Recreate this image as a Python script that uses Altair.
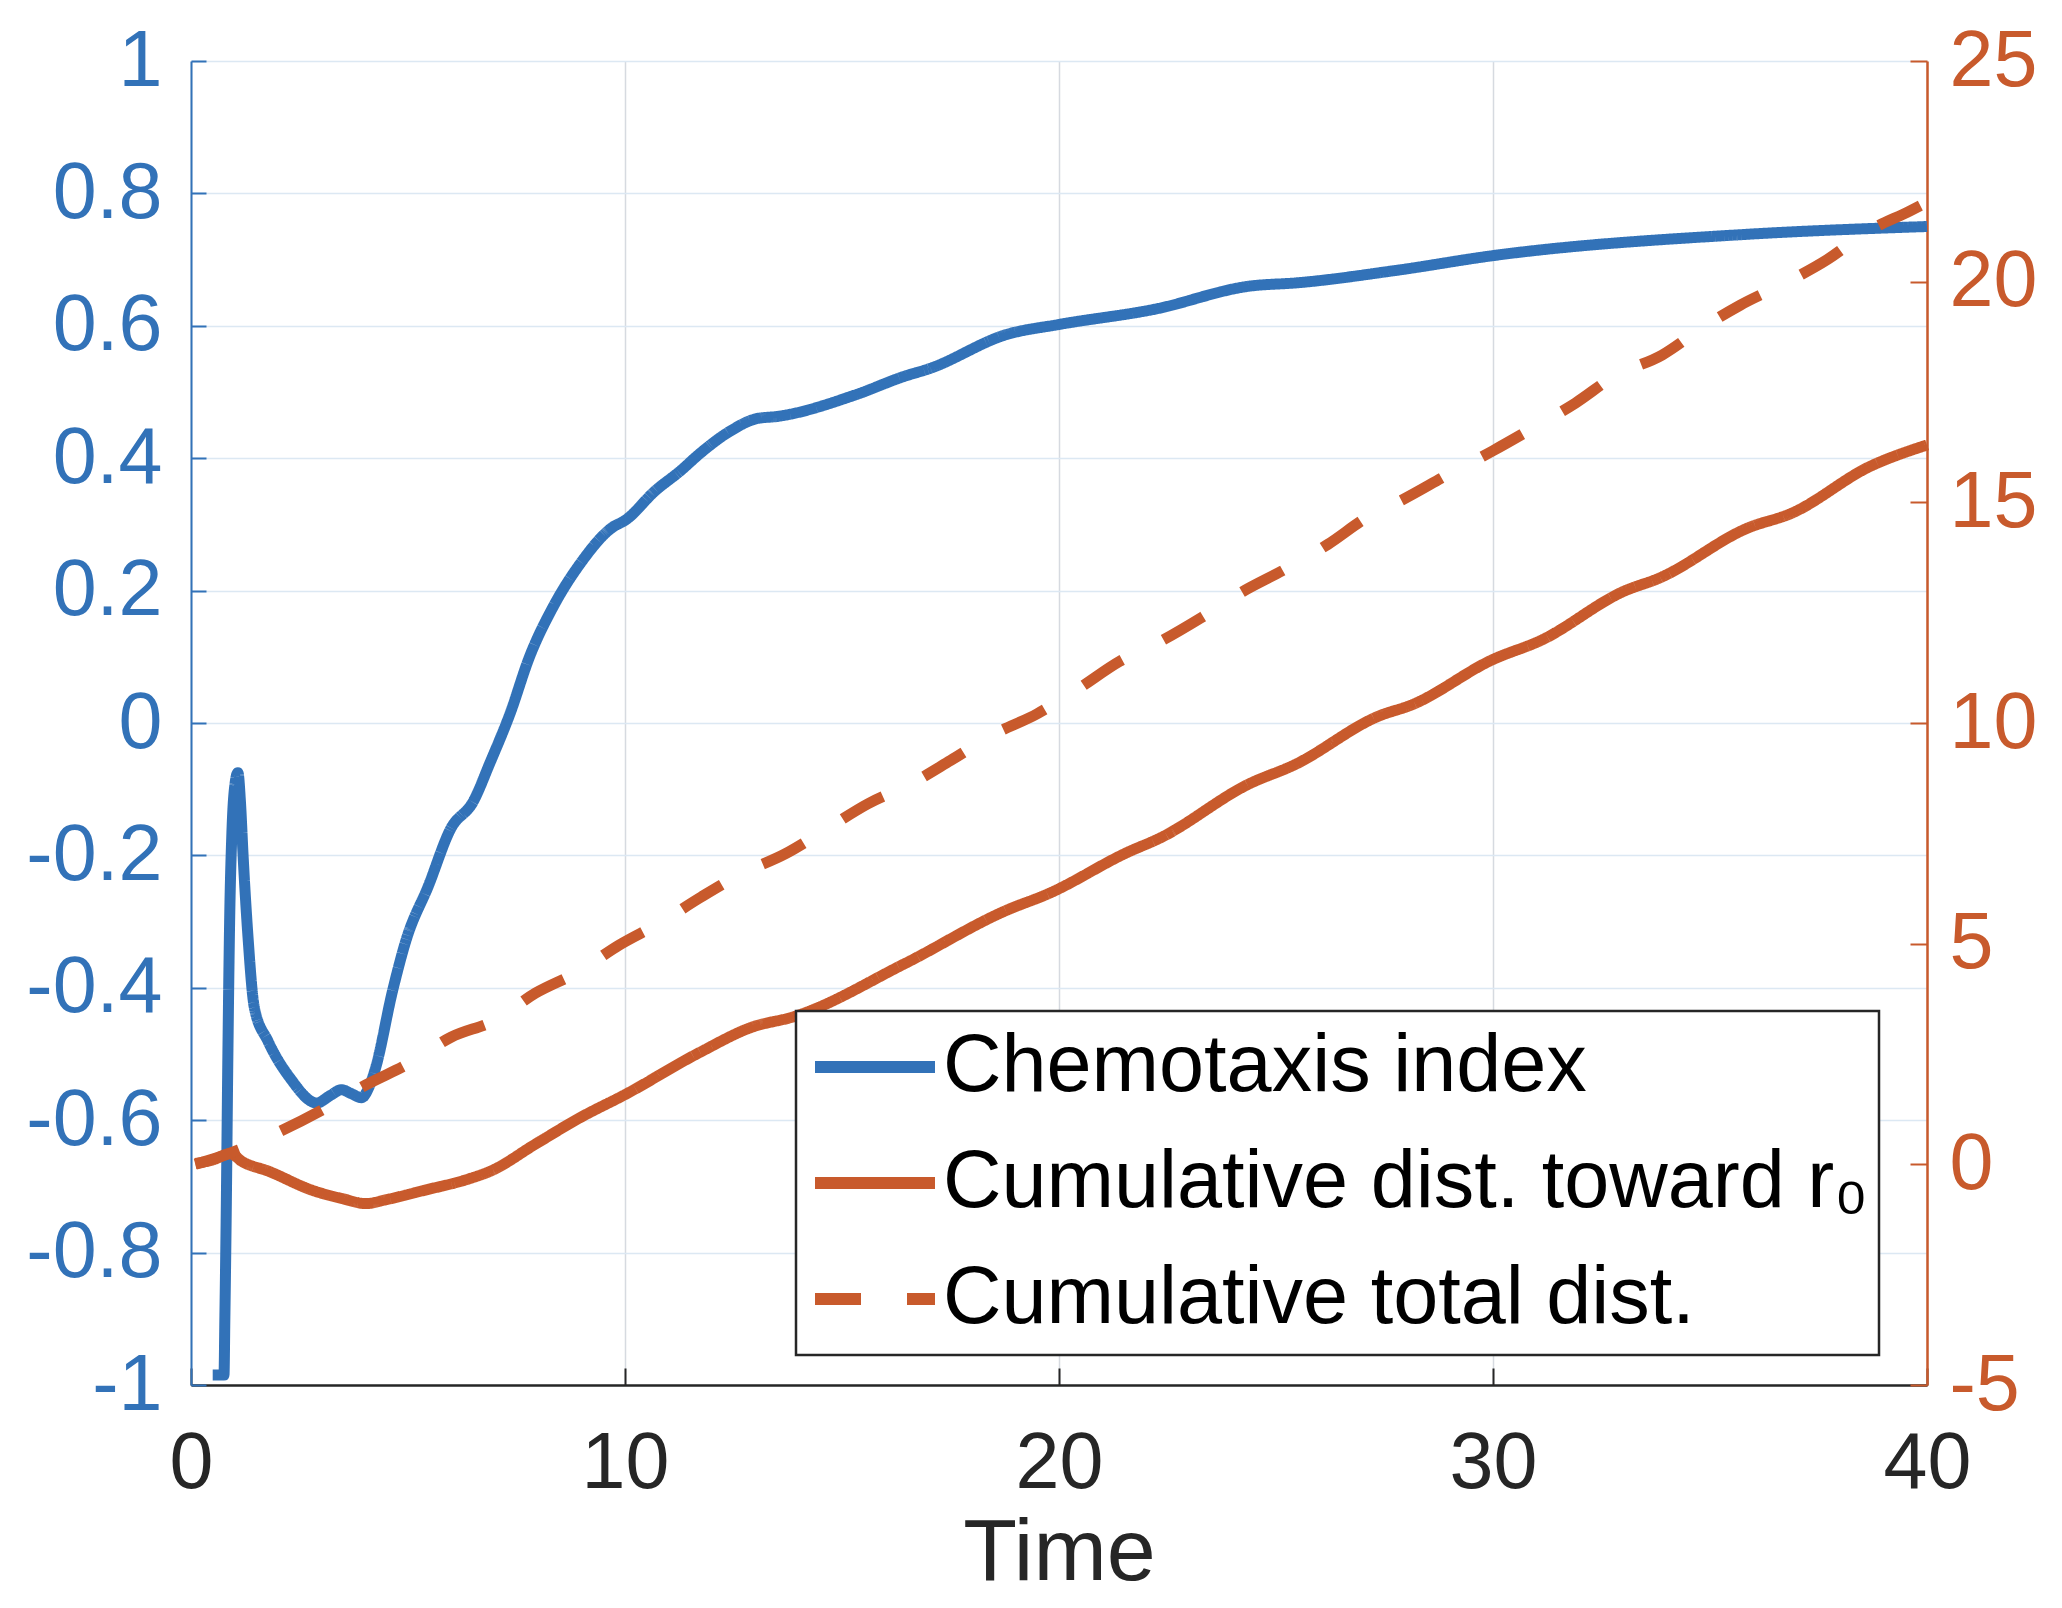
import altair as alt
import pandas as pd

# ---------------- data ----------------
ci_t = [0.5, 0.76, 0.78, 0.81, 0.85, 0.89, 0.94, 1.0, 1.08, 1.14, 1.2, 1.31, 1.46,
        1.77, 2.28, 2.9, 3.2, 3.47, 3.7, 3.93, 4.1, 4.24, 4.65, 4.96, 5.47, 5.99,
        6.5, 6.89, 7.35, 7.8, 8.34, 8.96, 9.72, 10.0, 10.7, 11.26, 11.76, 12.4,
        13.05, 13.5, 15.28, 16.45, 17.0, 18.8, 20.0, 22.2, 24.4, 25.5, 27.8, 30.0,
        35.8, 40.0]
ci_v = [-0.985, -0.985, -0.9, -0.75, -0.5, -0.3, -0.17, -0.1, -0.075, -0.12, -0.2,
        -0.32, -0.43, -0.48, -0.536, -0.574, -0.563, -0.554, -0.56, -0.566, -0.55,
        -0.524, -0.403, -0.327, -0.246, -0.159, -0.119, -0.06, 0.014, 0.1, 0.175,
        0.24, 0.296, 0.306, 0.351, 0.38, 0.409, 0.44, 0.46, 0.463, 0.495, 0.524,
        0.535, 0.587, 0.602, 0.625, 0.66, 0.665, 0.684, 0.706, 0.738, 0.75]

tow_t = [0.1, 0.5, 0.9, 1.2, 1.77, 2.8, 3.5, 4.03, 4.5, 5.37, 6.4, 6.91, 7.94, 8.97,
         10.0, 11.73, 12.93, 13.87, 16.45, 18.8, 19.75, 21.6, 22.3, 24.4, 25.4,
         27.4, 28.1, 30.0, 31.1, 33.05, 33.8, 35.9, 36.85, 38.7, 40.0]
tow_v = [0.02, 0.1, 0.24, 0.05, -0.15, -0.59, -0.78, -0.89, -0.8, -0.59, -0.33,
         -0.15, 0.46, 1.06, 1.58, 2.54, 3.11, 3.34, 4.55, 5.76, 6.13, 7.08, 7.38,
         8.63, 9.04, 10.17, 10.4, 11.44, 11.87, 13.0, 13.27, 14.43, 14.74, 15.82,
         16.3]

tot_t = [0.1, 0.6, 1.1, 2.08, 3.11, 4.03, 5.01, 5.99, 7.02, 7.94, 8.92, 9.85, 10.82,
         11.76, 12.7, 13.7, 14.6, 15.6, 16.6, 17.5, 18.45, 19.5, 20.45, 21.4, 22.3,
         23.3, 24.2, 25.2, 26.2, 27.1, 27.9, 29.0, 30.0, 31.0, 31.9, 32.8, 33.9,
         34.8, 35.7, 36.75, 37.7, 38.6, 39.6, 40.0]
tot_v = [0.0, 0.15, 0.33, 0.76, 1.28, 1.8, 2.28, 2.88, 3.27, 3.88, 4.36, 4.96, 5.48,
         6.06, 6.59, 7.04, 7.57, 8.17, 8.63, 9.15, 9.72, 10.21, 10.78, 11.4, 11.83,
         12.4, 12.96, 13.48, 14.05, 14.66, 15.05, 15.65, 16.17, 16.73, 17.25, 17.86,
         18.34, 18.94, 19.47, 19.98, 20.5, 21.12, 21.6, 21.8]

series_names = ["Chemotaxis index", "Cumulative dist. toward r\u2080",
                "Cumulative total dist."]
left_ticks = [-1, -0.8, -0.6, -0.4, -0.2, 0, 0.2, 0.4, 0.6, 0.8, 1]
right_ticks = [-5, 0, 5, 10, 15, 20, 25]
x_ticks = [0, 10, 20, 30, 40]

# ---------------- styling ----------------
BLUE = "#3272B8"
ORANGE = "#C85A2C"
DARK = "#262626"
FONT = "Liberation Sans"
LW = 11

blue_df = pd.DataFrame({"t": ci_t, "v": ci_v, "series": series_names[0]})
orange_df = pd.concat([
    pd.DataFrame({"t": tow_t, "v": tow_v, "series": series_names[1]}),
    pd.DataFrame({"t": tot_t, "v": tot_v, "series": series_names[2]}),
], ignore_index=True)

xscale = alt.Scale(domain=[0, 40], nice=False, zero=False)
lscale = alt.Scale(domain=[-1, 1], nice=False, zero=False)
rscale = alt.Scale(domain=[-5, 25], nice=False, zero=False)

color = alt.Color("series:N", title=None,
                  scale=alt.Scale(domain=series_names, range=[BLUE, ORANGE, ORANGE]))
dash = alt.StrokeDash("series:N", title=None,
                      scale=alt.Scale(domain=series_names,
                                      range=[[1, 0], [1, 0], [46, 46]]))

# main blue layer: left axis + bottom axis with labels, grids
blue = alt.Chart(blue_df).mark_line(
    strokeWidth=LW, strokeJoin="round", interpolate="monotone"
).encode(
    x=alt.X("t:Q", scale=xscale, axis=alt.Axis(
        orient="bottom", values=x_ticks, title="Time", domain=True,
        domainColor=DARK, domainWidth=2.5, ticks=False, tickSize=0,
        labelFontSize=79, labelColor=DARK, labelPadding=40, labelFlush=False,
        labelOverlap=False, titleFontSize=88, titleFontWeight="normal",
        titleColor=DARK, titleBaseline="alphabetic", titleY=194,
        grid=True, gridColor="#D6DAE0", gridWidth=1.5)),
    y=alt.Y("v:Q", scale=lscale, axis=alt.Axis(
        orient="left", values=left_ticks, title=None, domain=True,
        domainColor=BLUE, domainWidth=2, ticks=False, tickSize=0,
        labelFontSize=79, labelColor=BLUE, labelPadding=29,
        labelOverlap=False, labelExpr="toString(datum.value)",
        grid=True, gridColor="#DCE8F3", gridWidth=1.5)),
    color=color,
    strokeDash=dash,
)

# inward ticks on the left and bottom
blue_ticks = alt.Chart(blue_df).mark_line(strokeOpacity=0).encode(
    x=alt.X("t:Q", scale=xscale, axis=alt.Axis(
        orient="bottom", values=x_ticks, title=None, domain=False, labels=False,
        grid=False, ticks=True, tickSize=17, tickColor=DARK, tickWidth=2,
        offset=-17)),
    y=alt.Y("v:Q", scale=lscale, axis=alt.Axis(
        orient="left", values=left_ticks, title=None, domain=False, labels=False,
        grid=False, ticks=True, tickSize=15, tickColor=BLUE, tickWidth=2,
        offset=-15)),
)

# orange lines on the right axis
orange = alt.Chart(orange_df).mark_line(
    strokeWidth=LW, strokeJoin="round", interpolate="monotone"
).encode(
    x=alt.X("t:Q", scale=xscale, axis=None),
    y=alt.Y("v:Q", scale=rscale, axis=alt.Axis(
        orient="right", values=right_ticks, title=None, domain=True,
        domainColor=ORANGE, domainWidth=2.5, ticks=False, tickSize=0,
        labelFontSize=79, labelColor=ORANGE, labelPadding=22,
        labelOverlap=False, labelExpr="toString(datum.value)", grid=False)),
    color=color,
    strokeDash=dash,
)

orange_ticks = alt.Chart(orange_df).mark_line(strokeOpacity=0).encode(
    x=alt.X("t:Q", scale=xscale, axis=None),
    y=alt.Y("v:Q", scale=rscale, axis=alt.Axis(
        orient="right", values=right_ticks, title=None, domain=False,
        labels=False, grid=False, ticks=True, tickSize=17, tickColor=ORANGE,
        tickWidth=2, offset=-17)),
    detail="series:N",
)

chart = alt.layer(blue, blue_ticks, orange, orange_ticks).resolve_scale(
    y="independent"
).resolve_axis(
    x="independent", y="independent"
).properties(
    width=1736, height=1324,
    autosize=alt.AutoSizeParams(type="none"),
    padding={"left": 183, "top": 53, "right": 120, "bottom": 215},
    background="white",
).configure_view(
    strokeWidth=0
).configure_axis(
    labelFont=FONT, titleFont=FONT
).configure_legend(
    orient="none", legendX=605, legendY=950,
    fillColor="#ffffff", strokeColor=DARK, strokeWidth=2.5,
    padding=11, symbolType="stroke", symbolSize=14400, symbolStrokeWidth=12,
    labelFont=FONT, labelFontSize=81, labelColor="#000000", labelLimit=2000,
    clipHeight=90, rowPadding=26, symbolOffset=2, labelOffset=2,
)

chart.save("out.html", embed_options={"renderer": "svg", "actions": False})
